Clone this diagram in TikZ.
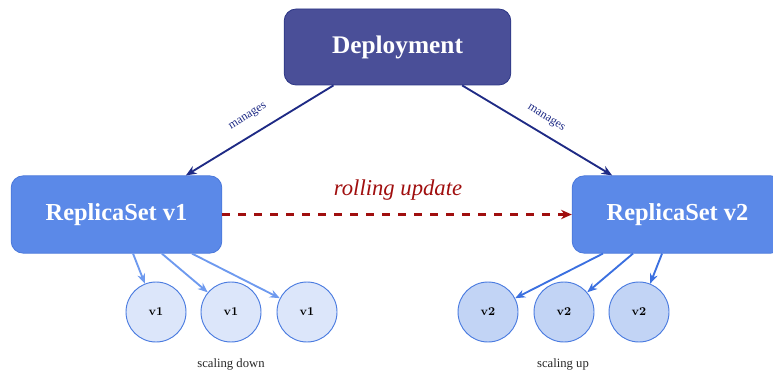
\documentclass[tikz,border=0pt]{standalone}
\usepackage{fontspec}
\newfontfamily\lib{Liberation Serif}
\usetikzlibrary{arrows.meta,calc}
\definecolor{depfill}{HTML}{4A4F98}
\definecolor{depdraw}{HTML}{2B3585}
\definecolor{rsfill}{HTML}{5B89E8}
\definecolor{rsdraw}{HTML}{4A78DB}
\definecolor{mancol}{HTML}{1E2A85}
\definecolor{rollcol}{HTML}{A00E0E}
\definecolor{podafill}{HTML}{DCE6FA}
\definecolor{podbfill}{HTML}{C2D4F5}
\definecolor{poddraw}{HTML}{4A7BE0}
\definecolor{arrowa}{HTML}{6E9AEF}
\definecolor{arrowb}{HTML}{3B70E0}
\tikzset{
  depbox/.style={draw=depdraw, fill=depfill, rounded corners=9pt, minimum width=170pt, minimum height=57pt, text=white, font=\lib\bfseries\fontsize{19}{21}\selectfont, line width=0.6pt},
  rsbox/.style={draw=rsdraw, fill=rsfill, rounded corners=9pt, minimum width=158pt, minimum height=58pt, text=white, font=\lib\bfseries\fontsize{18.3}{20}\selectfont, line width=0.6pt},
  poda/.style={circle, draw=poddraw, fill=podafill, minimum size=45pt, inner sep=0pt, font=\bfseries\fontsize{9}{10}\selectfont, line width=0.7pt},
  podb/.style={circle, draw=poddraw, fill=podbfill, minimum size=45pt, inner sep=0pt, font=\bfseries\fontsize{9}{10}\selectfont, line width=0.7pt},
  manarrow/.style={draw=mancol, line width=1.4pt, -{Stealth[length=8pt,width=6.5pt]}},
  manlabel/.style={text=mancol, font=\lib\fontsize{9}{10}\selectfont, inner sep=1pt},
  scaleaarrow/.style={draw=arrowa, line width=1.4pt, -{Stealth[length=7.5pt,width=6pt]}},
  scalebarrow/.style={draw=arrowb, line width=1.4pt, -{Stealth[length=7.5pt,width=6pt]}},
  rollarrow/.style={draw=rollcol, line width=1.8pt, dash pattern=on 6pt off 6pt, -{Stealth[length=8pt,width=7pt]}},
  caption/.style={font=\lib\fontsize{9.5}{11}\selectfont, text=black!85}
}
\begin{document}
\begin{tikzpicture}[x=0.75pt,y=-0.75pt]
\useasboundingbox (0,0) rectangle (773,374);
\clip (0,0) rectangle (773,374);
\node[depbox] (dep) at (397.5,47) {Deployment};
\node[rsbox] (rs1) at (116.5,214.5) {ReplicaSet v1};
\node[rsbox] (rs2) at (677.5,214.5) {ReplicaSet v2};
\node[poda] (a1) at (156,312) {v1};
\node[poda] (a2) at (231,312) {v1};
\node[poda] (a3) at (307,312) {v1};
\node[podb] (b1) at (488,312) {v2};
\node[podb] (b2) at (564,312) {v2};
\node[podb] (b3) at (639,312) {v2};
\node[caption] (capa) at (231,364) {scaling down};
\node[caption] (capb) at (563,364) {scaling up};
\node[manlabel, rotate=32] (ml) at (248,117) {manages};
\node[manlabel, rotate=-32] (mr) at (546,118) {manages};
\node[text=rollcol, font=\lib\itshape\fontsize{17}{19}\selectfont] (rl) at (398,190) {rolling update};
\draw[manarrow] ([xshift=-48pt]dep.south) -- ([xshift=52pt]rs1.north);
\draw[manarrow] ([xshift=48.5pt]dep.south) -- ([xshift=-49pt]rs2.north);
\draw[rollarrow] (rs1.east) -- (rs2.west);
\draw[scaleaarrow] ([xshift=12.4pt]rs1.south) -- (a1);
\draw[scaleaarrow] ([xshift=34pt]rs1.south) -- (a2);
\draw[scaleaarrow] ([xshift=56.6pt]rs1.south) -- (a3);
\draw[scalebarrow] ([xshift=-55.9pt]rs2.south) -- (b1);
\draw[scalebarrow] ([xshift=-33.4pt]rs2.south) -- (b2);
\draw[scalebarrow] ([xshift=-11.6pt]rs2.south) -- (b3);
\end{tikzpicture}
\end{document}
